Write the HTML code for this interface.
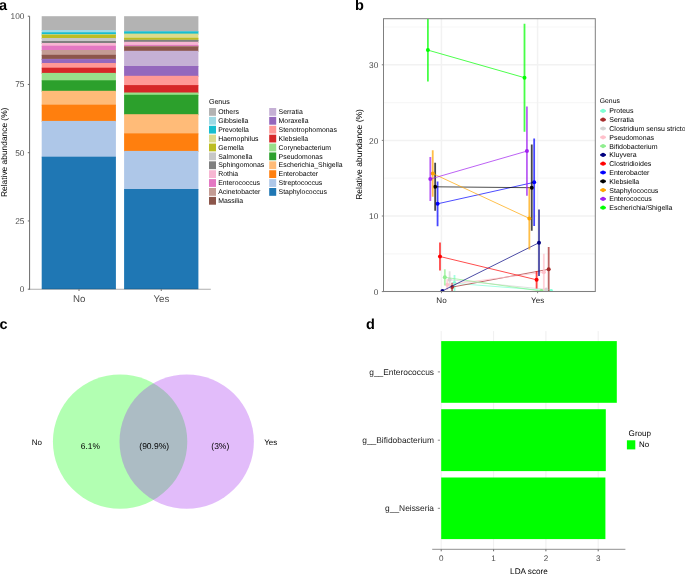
<!DOCTYPE html>
<html><head><meta charset="utf-8"><style>
html,body{margin:0;padding:0;background:#fff;width:685px;height:574px;overflow:hidden}
svg{display:block;font-family:"Liberation Sans", sans-serif;will-change:transform;text-rendering:geometricPrecision}
</style></head><body>
<svg width="685" height="574" viewBox="0 0 685 574">
<rect x="0" y="0" width="685" height="574" fill="#fff"/>
<text x="-1.00" y="10.00" font-size="14.5" fill="#000" text-anchor="start" font-weight="bold" >a</text>
<text x="355.00" y="10.20" font-size="14.5" fill="#000" text-anchor="start" font-weight="bold" >b</text>
<text x="-0.60" y="328.80" font-size="14.5" fill="#000" text-anchor="start" font-weight="bold" >c</text>
<text x="366.00" y="329.20" font-size="14.5" fill="#000" text-anchor="start" font-weight="bold" >d</text>
<rect x="41.70" y="16.20" width="74.20" height="14.80" fill="#b3b3b3"/>
<rect x="41.70" y="30.00" width="74.20" height="3.30" fill="#9edae5"/>
<rect x="41.70" y="32.30" width="74.20" height="2.90" fill="#17becf"/>
<rect x="41.70" y="34.20" width="74.20" height="1.60" fill="#dbdb8d"/>
<rect x="41.70" y="34.80" width="74.20" height="4.20" fill="#bcbd22"/>
<rect x="41.70" y="38.00" width="74.20" height="4.00" fill="#c7c7c7"/>
<rect x="41.70" y="41.00" width="74.20" height="3.00" fill="#7f7f7f"/>
<rect x="41.70" y="43.00" width="74.20" height="3.70" fill="#f7b6d2"/>
<rect x="41.70" y="45.70" width="74.20" height="5.30" fill="#e377c2"/>
<rect x="41.70" y="50.00" width="74.20" height="5.80" fill="#c49c94"/>
<rect x="41.70" y="54.80" width="74.20" height="5.10" fill="#8c564b"/>
<rect x="41.70" y="58.90" width="74.20" height="1.20" fill="#c5b0d5"/>
<rect x="41.70" y="59.10" width="74.20" height="4.90" fill="#9467bd"/>
<rect x="41.70" y="63.00" width="74.20" height="5.70" fill="#ff9896"/>
<rect x="41.70" y="67.70" width="74.20" height="6.20" fill="#d62728"/>
<rect x="41.70" y="72.90" width="74.20" height="8.40" fill="#98df8a"/>
<rect x="41.70" y="80.30" width="74.20" height="11.50" fill="#2ca02c"/>
<rect x="41.70" y="90.80" width="74.20" height="14.90" fill="#ffbb78"/>
<rect x="41.70" y="104.70" width="74.20" height="17.20" fill="#ff7f0e"/>
<rect x="41.70" y="120.90" width="74.20" height="36.80" fill="#aec7e8"/>
<rect x="41.70" y="156.70" width="74.20" height="132.50" fill="#1f77b4"/>
<rect x="124.10" y="16.20" width="74.30" height="16.00" fill="#b3b3b3"/>
<rect x="124.10" y="31.20" width="74.30" height="1.20" fill="#9edae5"/>
<rect x="124.10" y="31.40" width="74.30" height="3.20" fill="#17becf"/>
<rect x="124.10" y="33.60" width="74.30" height="5.20" fill="#dbdb8d"/>
<rect x="124.10" y="37.80" width="74.30" height="3.00" fill="#bcbd22"/>
<rect x="124.10" y="39.80" width="74.30" height="1.10" fill="#c7c7c7"/>
<rect x="124.10" y="39.90" width="74.30" height="2.90" fill="#7f7f7f"/>
<rect x="124.10" y="41.80" width="74.30" height="4.10" fill="#f7b6d2"/>
<rect x="124.10" y="44.90" width="74.30" height="2.00" fill="#e377c2"/>
<rect x="124.10" y="45.90" width="74.30" height="1.60" fill="#c49c94"/>
<rect x="124.10" y="46.50" width="74.30" height="5.30" fill="#8c564b"/>
<rect x="124.10" y="50.80" width="74.30" height="16.20" fill="#c5b0d5"/>
<rect x="124.10" y="66.00" width="74.30" height="10.80" fill="#9467bd"/>
<rect x="124.10" y="75.80" width="74.30" height="10.30" fill="#ff9896"/>
<rect x="124.10" y="85.10" width="74.30" height="8.40" fill="#d62728"/>
<rect x="124.10" y="92.50" width="74.30" height="3.30" fill="#98df8a"/>
<rect x="124.10" y="94.80" width="74.30" height="20.40" fill="#2ca02c"/>
<rect x="124.10" y="114.20" width="74.30" height="20.20" fill="#ffbb78"/>
<rect x="124.10" y="133.40" width="74.30" height="18.50" fill="#ff7f0e"/>
<rect x="124.10" y="150.90" width="74.30" height="39.10" fill="#aec7e8"/>
<rect x="124.10" y="189.00" width="74.30" height="100.20" fill="#1f77b4"/>
<line x1="29.60" y1="16.20" x2="29.60" y2="289.70" stroke="#6b6b6b" stroke-width="1" />
<line x1="29.60" y1="289.20" x2="210.80" y2="289.20" stroke="#000" stroke-width="1.1" stroke-opacity="0.32"/>
<line x1="27.80" y1="289.20" x2="29.60" y2="289.20" stroke="#6b6b6b" stroke-width="1" />
<text x="24.40" y="292.00" font-size="8.3" fill="#4d4d4d" text-anchor="end" font-weight="normal" >0</text>
<line x1="27.80" y1="220.95" x2="29.60" y2="220.95" stroke="#6b6b6b" stroke-width="1" />
<text x="24.40" y="223.75" font-size="8.3" fill="#4d4d4d" text-anchor="end" font-weight="normal" >25</text>
<line x1="27.80" y1="152.70" x2="29.60" y2="152.70" stroke="#6b6b6b" stroke-width="1" />
<text x="24.40" y="155.50" font-size="8.3" fill="#4d4d4d" text-anchor="end" font-weight="normal" >50</text>
<line x1="27.80" y1="84.45" x2="29.60" y2="84.45" stroke="#6b6b6b" stroke-width="1" />
<text x="24.40" y="87.25" font-size="8.3" fill="#4d4d4d" text-anchor="end" font-weight="normal" >75</text>
<line x1="27.80" y1="16.20" x2="29.60" y2="16.20" stroke="#6b6b6b" stroke-width="1" />
<text x="24.40" y="19.00" font-size="8.3" fill="#4d4d4d" text-anchor="end" font-weight="normal" >100</text>
<line x1="79.00" y1="289.20" x2="79.00" y2="291.00" stroke="#6b6b6b" stroke-width="1" />
<text x="79.20" y="302.00" font-size="9.7" fill="#4d4d4d" text-anchor="middle" font-weight="normal" >No</text>
<line x1="161.25" y1="289.20" x2="161.25" y2="291.00" stroke="#6b6b6b" stroke-width="1" />
<text x="161.45" y="302.00" font-size="9.7" fill="#4d4d4d" text-anchor="middle" font-weight="normal" >Yes</text>
<text x="0.00" y="0.00" font-size="8.4" fill="#000" text-anchor="middle" font-weight="normal" transform="translate(6.6,152.3) rotate(-90)">Relative abundance (%)</text>
<text x="208.90" y="104.40" font-size="7.1" fill="#000" text-anchor="start" font-weight="normal" >Genus</text>
<rect x="209.00" y="108.00" width="7.00" height="7.80" fill="#b3b3b3"/>
<text x="218.20" y="114.05" font-size="6.9" fill="#000" text-anchor="start" font-weight="normal" >Others</text>
<rect x="209.00" y="116.89" width="7.00" height="7.80" fill="#9edae5"/>
<text x="218.20" y="122.94" font-size="6.9" fill="#000" text-anchor="start" font-weight="normal" >Gibbsiella</text>
<rect x="209.00" y="125.78" width="7.00" height="7.80" fill="#17becf"/>
<text x="218.20" y="131.83" font-size="6.9" fill="#000" text-anchor="start" font-weight="normal" >Prevotella</text>
<rect x="209.00" y="134.67" width="7.00" height="7.80" fill="#dbdb8d"/>
<text x="218.20" y="140.72" font-size="6.9" fill="#000" text-anchor="start" font-weight="normal" >Haemophilus</text>
<rect x="209.00" y="143.56" width="7.00" height="7.80" fill="#bcbd22"/>
<text x="218.20" y="149.61" font-size="6.9" fill="#000" text-anchor="start" font-weight="normal" >Gemella</text>
<rect x="209.00" y="152.45" width="7.00" height="7.80" fill="#c7c7c7"/>
<text x="218.20" y="158.50" font-size="6.9" fill="#000" text-anchor="start" font-weight="normal" >Salmonella</text>
<rect x="209.00" y="161.34" width="7.00" height="7.80" fill="#7f7f7f"/>
<text x="218.20" y="167.39" font-size="6.9" fill="#000" text-anchor="start" font-weight="normal" >Sphingomonas</text>
<rect x="209.00" y="170.23" width="7.00" height="7.80" fill="#f7b6d2"/>
<text x="218.20" y="176.28" font-size="6.9" fill="#000" text-anchor="start" font-weight="normal" >Rothia</text>
<rect x="209.00" y="179.12" width="7.00" height="7.80" fill="#e377c2"/>
<text x="218.20" y="185.17" font-size="6.9" fill="#000" text-anchor="start" font-weight="normal" >Enterococcus</text>
<rect x="209.00" y="188.01" width="7.00" height="7.80" fill="#c49c94"/>
<text x="218.20" y="194.06" font-size="6.9" fill="#000" text-anchor="start" font-weight="normal" >Acinetobacter</text>
<rect x="209.00" y="196.90" width="7.00" height="7.80" fill="#8c564b"/>
<text x="218.20" y="202.95" font-size="6.9" fill="#000" text-anchor="start" font-weight="normal" >Massilia</text>
<rect x="269.20" y="108.00" width="7.00" height="7.80" fill="#c5b0d5"/>
<text x="278.60" y="114.05" font-size="6.9" fill="#000" text-anchor="start" font-weight="normal" >Serratia</text>
<rect x="269.20" y="116.89" width="7.00" height="7.80" fill="#9467bd"/>
<text x="278.60" y="122.94" font-size="6.9" fill="#000" text-anchor="start" font-weight="normal" >Moraxella</text>
<rect x="269.20" y="125.78" width="7.00" height="7.80" fill="#ff9896"/>
<text x="278.60" y="131.83" font-size="6.9" fill="#000" text-anchor="start" font-weight="normal" >Stenotrophomonas</text>
<rect x="269.20" y="134.67" width="7.00" height="7.80" fill="#d62728"/>
<text x="278.60" y="140.72" font-size="6.9" fill="#000" text-anchor="start" font-weight="normal" >Klebsiella</text>
<rect x="269.20" y="143.56" width="7.00" height="7.80" fill="#98df8a"/>
<text x="278.60" y="149.61" font-size="6.9" fill="#000" text-anchor="start" font-weight="normal" >Corynebacterium</text>
<rect x="269.20" y="152.45" width="7.00" height="7.80" fill="#2ca02c"/>
<text x="278.60" y="158.50" font-size="6.9" fill="#000" text-anchor="start" font-weight="normal" >Pseudomonas</text>
<rect x="269.20" y="161.34" width="7.00" height="7.80" fill="#ffbb78"/>
<text x="278.60" y="167.39" font-size="6.9" fill="#000" text-anchor="start" font-weight="normal" >Escherichia_Shigella</text>
<rect x="269.20" y="170.23" width="7.00" height="7.80" fill="#ff7f0e"/>
<text x="278.60" y="176.28" font-size="6.9" fill="#000" text-anchor="start" font-weight="normal" >Enterobacter</text>
<rect x="269.20" y="179.12" width="7.00" height="7.80" fill="#aec7e8"/>
<text x="278.60" y="185.17" font-size="6.9" fill="#000" text-anchor="start" font-weight="normal" >Streptococcus</text>
<rect x="269.20" y="188.01" width="7.00" height="7.80" fill="#1f77b4"/>
<text x="278.60" y="194.06" font-size="6.9" fill="#000" text-anchor="start" font-weight="normal" >Staphylococcus</text>
<line x1="383.50" y1="253.80" x2="595.30" y2="253.80" stroke="#f7f7f7" stroke-width="1.2" />
<line x1="383.50" y1="178.20" x2="595.30" y2="178.20" stroke="#f7f7f7" stroke-width="1.2" />
<line x1="383.50" y1="102.60" x2="595.30" y2="102.60" stroke="#f7f7f7" stroke-width="1.2" />
<line x1="383.50" y1="27.00" x2="595.30" y2="27.00" stroke="#f7f7f7" stroke-width="1.2" />
<line x1="383.50" y1="291.60" x2="595.30" y2="291.60" stroke="#f2f2f2" stroke-width="1.5" />
<line x1="383.50" y1="216.00" x2="595.30" y2="216.00" stroke="#f2f2f2" stroke-width="1.5" />
<line x1="383.50" y1="140.40" x2="595.30" y2="140.40" stroke="#f2f2f2" stroke-width="1.5" />
<line x1="383.50" y1="64.80" x2="595.30" y2="64.80" stroke="#f2f2f2" stroke-width="1.5" />
<line x1="441.40" y1="18.70" x2="441.40" y2="291.50" stroke="#f2f2f2" stroke-width="1.5" />
<line x1="537.60" y1="18.70" x2="537.60" y2="291.50" stroke="#f2f2f2" stroke-width="1.5" />
<defs><clipPath id="cb"><rect x="383.5" y="18.7" width="211.8" height="272.8"/></clipPath></defs>
<g clip-path="url(#cb)">
<line x1="454.50" y1="283.30" x2="551.10" y2="290.90" stroke="#7fffd4" stroke-width="1.0" stroke-opacity="0.7"/>
<line x1="454.50" y1="275.10" x2="454.50" y2="291.50" stroke="#7fffd4" stroke-width="1.8" stroke-opacity="0.72"/>
<line x1="551.10" y1="290.10" x2="551.10" y2="291.70" stroke="#7fffd4" stroke-width="1.8" stroke-opacity="0.72"/>
<circle cx="454.50" cy="283.30" r="2.0" fill="#7fffd4"/>
<circle cx="551.10" cy="290.90" r="2.0" fill="#7fffd4"/>
<line x1="452.08" y1="287.10" x2="548.68" y2="269.30" stroke="#a52a2a" stroke-width="1.0" stroke-opacity="0.7"/>
<line x1="452.08" y1="282.70" x2="452.08" y2="291.50" stroke="#a52a2a" stroke-width="1.8" stroke-opacity="0.72"/>
<line x1="548.68" y1="247.10" x2="548.68" y2="291.50" stroke="#a52a2a" stroke-width="1.8" stroke-opacity="0.72"/>
<circle cx="452.08" cy="287.10" r="2.0" fill="#a52a2a"/>
<circle cx="548.68" cy="269.30" r="2.0" fill="#a52a2a"/>
<line x1="449.66" y1="279.70" x2="546.26" y2="289.40" stroke="#d3d3d3" stroke-width="1.0" stroke-opacity="0.7"/>
<line x1="449.66" y1="271.20" x2="449.66" y2="288.20" stroke="#d3d3d3" stroke-width="1.8" stroke-opacity="0.72"/>
<line x1="546.26" y1="288.20" x2="546.26" y2="290.60" stroke="#d3d3d3" stroke-width="1.8" stroke-opacity="0.72"/>
<circle cx="449.66" cy="279.70" r="2.0" fill="#d3d3d3"/>
<circle cx="546.26" cy="289.40" r="2.0" fill="#d3d3d3"/>
<line x1="447.24" y1="284.70" x2="543.84" y2="272.30" stroke="#ffc0cb" stroke-width="1.0" stroke-opacity="0.7"/>
<line x1="447.24" y1="279.30" x2="447.24" y2="290.10" stroke="#ffc0cb" stroke-width="1.8" stroke-opacity="0.72"/>
<line x1="543.84" y1="253.80" x2="543.84" y2="290.80" stroke="#ffc0cb" stroke-width="1.8" stroke-opacity="0.72"/>
<circle cx="447.24" cy="284.70" r="2.0" fill="#ffc0cb"/>
<circle cx="543.84" cy="272.30" r="2.0" fill="#ffc0cb"/>
<line x1="444.83" y1="277.30" x2="541.43" y2="291.10" stroke="#90ee90" stroke-width="1.0" stroke-opacity="0.7"/>
<line x1="444.83" y1="269.20" x2="444.83" y2="285.40" stroke="#90ee90" stroke-width="1.8" stroke-opacity="0.72"/>
<line x1="541.43" y1="290.30" x2="541.43" y2="291.90" stroke="#90ee90" stroke-width="1.8" stroke-opacity="0.72"/>
<circle cx="444.83" cy="277.30" r="2.0" fill="#90ee90"/>
<circle cx="541.43" cy="291.10" r="2.0" fill="#90ee90"/>
<line x1="442.41" y1="290.90" x2="539.01" y2="242.70" stroke="#000080" stroke-width="1.0" stroke-opacity="0.7"/>
<line x1="442.41" y1="290.30" x2="442.41" y2="291.50" stroke="#000080" stroke-width="1.8" stroke-opacity="0.72"/>
<line x1="539.01" y1="209.50" x2="539.01" y2="275.90" stroke="#000080" stroke-width="1.8" stroke-opacity="0.72"/>
<circle cx="442.41" cy="290.90" r="2.0" fill="#000080"/>
<circle cx="539.01" cy="242.70" r="2.0" fill="#000080"/>
<line x1="439.99" y1="256.50" x2="536.59" y2="279.80" stroke="#ff0000" stroke-width="1.0" stroke-opacity="0.7"/>
<line x1="439.99" y1="242.60" x2="439.99" y2="270.40" stroke="#ff0000" stroke-width="1.8" stroke-opacity="0.72"/>
<line x1="536.59" y1="271.20" x2="536.59" y2="288.40" stroke="#ff0000" stroke-width="1.8" stroke-opacity="0.72"/>
<circle cx="439.99" cy="256.50" r="2.0" fill="#ff0000"/>
<circle cx="536.59" cy="279.80" r="2.0" fill="#ff0000"/>
<line x1="437.57" y1="203.80" x2="534.17" y2="182.30" stroke="#0000ff" stroke-width="1.0" stroke-opacity="0.7"/>
<line x1="437.57" y1="181.40" x2="437.57" y2="226.20" stroke="#0000ff" stroke-width="1.8" stroke-opacity="0.72"/>
<line x1="534.17" y1="138.60" x2="534.17" y2="226.00" stroke="#0000ff" stroke-width="1.8" stroke-opacity="0.72"/>
<circle cx="437.57" cy="203.80" r="2.0" fill="#0000ff"/>
<circle cx="534.17" cy="182.30" r="2.0" fill="#0000ff"/>
<line x1="435.15" y1="186.80" x2="531.75" y2="187.70" stroke="#000000" stroke-width="1.0" stroke-opacity="0.7"/>
<line x1="435.15" y1="162.80" x2="435.15" y2="210.80" stroke="#000000" stroke-width="1.8" stroke-opacity="0.72"/>
<line x1="531.75" y1="144.60" x2="531.75" y2="230.80" stroke="#000000" stroke-width="1.8" stroke-opacity="0.72"/>
<circle cx="435.15" cy="186.80" r="2.0" fill="#000000"/>
<circle cx="531.75" cy="187.70" r="2.0" fill="#000000"/>
<line x1="432.74" y1="173.50" x2="529.34" y2="218.40" stroke="#ffa500" stroke-width="1.0" stroke-opacity="0.7"/>
<line x1="432.74" y1="150.20" x2="432.74" y2="196.80" stroke="#ffa500" stroke-width="1.8" stroke-opacity="0.72"/>
<line x1="529.34" y1="187.40" x2="529.34" y2="249.40" stroke="#ffa500" stroke-width="1.8" stroke-opacity="0.72"/>
<circle cx="432.74" cy="173.50" r="2.0" fill="#ffa500"/>
<circle cx="529.34" cy="218.40" r="2.0" fill="#ffa500"/>
<line x1="430.32" y1="179.00" x2="526.92" y2="151.10" stroke="#a020f0" stroke-width="1.0" stroke-opacity="0.7"/>
<line x1="430.32" y1="157.00" x2="430.32" y2="201.00" stroke="#a020f0" stroke-width="1.8" stroke-opacity="0.72"/>
<line x1="526.92" y1="106.40" x2="526.92" y2="195.80" stroke="#a020f0" stroke-width="1.8" stroke-opacity="0.72"/>
<circle cx="430.32" cy="179.00" r="2.0" fill="#a020f0"/>
<circle cx="526.92" cy="151.10" r="2.0" fill="#a020f0"/>
<line x1="427.90" y1="50.10" x2="524.50" y2="77.70" stroke="#00ff00" stroke-width="1.0" stroke-opacity="0.7"/>
<line x1="427.90" y1="18.80" x2="427.90" y2="81.40" stroke="#00ff00" stroke-width="1.8" stroke-opacity="0.72"/>
<line x1="524.50" y1="23.70" x2="524.50" y2="131.70" stroke="#00ff00" stroke-width="1.8" stroke-opacity="0.72"/>
<circle cx="427.90" cy="50.10" r="2.0" fill="#00ff00"/>
<circle cx="524.50" cy="77.70" r="2.0" fill="#00ff00"/>
</g>
<rect x="383.5" y="18.7" width="211.8" height="272.8" fill="none" stroke="#7f7f7f" stroke-width="1"/>
<line x1="381.80" y1="291.60" x2="383.50" y2="291.60" stroke="#7f7f7f" stroke-width="1" />
<text x="378.30" y="295.00" font-size="8.3" fill="#4d4d4d" text-anchor="end" font-weight="normal" >0</text>
<line x1="381.80" y1="216.00" x2="383.50" y2="216.00" stroke="#7f7f7f" stroke-width="1" />
<text x="378.30" y="219.40" font-size="8.3" fill="#4d4d4d" text-anchor="end" font-weight="normal" >10</text>
<line x1="381.80" y1="140.40" x2="383.50" y2="140.40" stroke="#7f7f7f" stroke-width="1" />
<text x="378.30" y="143.80" font-size="8.3" fill="#4d4d4d" text-anchor="end" font-weight="normal" >20</text>
<line x1="381.80" y1="64.80" x2="383.50" y2="64.80" stroke="#7f7f7f" stroke-width="1" />
<text x="378.30" y="68.20" font-size="8.3" fill="#4d4d4d" text-anchor="end" font-weight="normal" >30</text>
<line x1="441.50" y1="291.50" x2="441.50" y2="293.20" stroke="#7f7f7f" stroke-width="1" />
<text x="441.50" y="303.00" font-size="8.1" fill="#1a1a1a" text-anchor="middle" font-weight="normal" >No</text>
<line x1="537.60" y1="291.50" x2="537.60" y2="293.20" stroke="#7f7f7f" stroke-width="1" />
<text x="537.60" y="303.00" font-size="8.1" fill="#1a1a1a" text-anchor="middle" font-weight="normal" >Yes</text>
<text x="0.00" y="0.00" font-size="8.5" fill="#000" text-anchor="middle" font-weight="normal" transform="translate(362.1,154.5) rotate(-90)">Relative abundance (%)</text>
<text x="599.80" y="103.00" font-size="6.8" fill="#000" text-anchor="start" font-weight="normal" >Genus</text>
<line x1="600.20" y1="110.90" x2="605.90" y2="110.90" stroke="#7fffd4" stroke-width="1.9" />
<circle cx="603.05" cy="110.90" r="2.1" fill="#7fffd4"/>
<text x="609.30" y="113.35" font-size="7.0" fill="#000" text-anchor="start" font-weight="normal" >Proteus</text>
<line x1="600.20" y1="119.70" x2="605.90" y2="119.70" stroke="#a52a2a" stroke-width="1.9" />
<circle cx="603.05" cy="119.70" r="2.1" fill="#a52a2a"/>
<text x="609.30" y="122.15" font-size="7.0" fill="#000" text-anchor="start" font-weight="normal" >Serratia</text>
<line x1="600.20" y1="128.50" x2="605.90" y2="128.50" stroke="#d3d3d3" stroke-width="1.9" />
<circle cx="603.05" cy="128.50" r="2.1" fill="#d3d3d3"/>
<text x="609.30" y="130.95" font-size="7.0" fill="#000" text-anchor="start" font-weight="normal" >Clostridium sensu stricto</text>
<line x1="600.20" y1="137.30" x2="605.90" y2="137.30" stroke="#ffc0cb" stroke-width="1.9" />
<circle cx="603.05" cy="137.30" r="2.1" fill="#ffc0cb"/>
<text x="609.30" y="139.75" font-size="7.0" fill="#000" text-anchor="start" font-weight="normal" >Pseudomonas</text>
<line x1="600.20" y1="146.10" x2="605.90" y2="146.10" stroke="#90ee90" stroke-width="1.9" />
<circle cx="603.05" cy="146.10" r="2.1" fill="#90ee90"/>
<text x="609.30" y="148.55" font-size="7.0" fill="#000" text-anchor="start" font-weight="normal" >Bifidobacterium</text>
<line x1="600.20" y1="154.90" x2="605.90" y2="154.90" stroke="#000080" stroke-width="1.9" />
<circle cx="603.05" cy="154.90" r="2.1" fill="#000080"/>
<text x="609.30" y="157.35" font-size="7.0" fill="#000" text-anchor="start" font-weight="normal" >Kluyvera</text>
<line x1="600.20" y1="163.70" x2="605.90" y2="163.70" stroke="#ff0000" stroke-width="1.9" />
<circle cx="603.05" cy="163.70" r="2.1" fill="#ff0000"/>
<text x="609.30" y="166.15" font-size="7.0" fill="#000" text-anchor="start" font-weight="normal" >Clostridioides</text>
<line x1="600.20" y1="172.50" x2="605.90" y2="172.50" stroke="#0000ff" stroke-width="1.9" />
<circle cx="603.05" cy="172.50" r="2.1" fill="#0000ff"/>
<text x="609.30" y="174.95" font-size="7.0" fill="#000" text-anchor="start" font-weight="normal" >Enterobacter</text>
<line x1="600.20" y1="181.30" x2="605.90" y2="181.30" stroke="#000000" stroke-width="1.9" />
<circle cx="603.05" cy="181.30" r="2.1" fill="#000000"/>
<text x="609.30" y="183.75" font-size="7.0" fill="#000" text-anchor="start" font-weight="normal" >Klebsiella</text>
<line x1="600.20" y1="190.10" x2="605.90" y2="190.10" stroke="#ffa500" stroke-width="1.9" />
<circle cx="603.05" cy="190.10" r="2.1" fill="#ffa500"/>
<text x="609.30" y="192.55" font-size="7.0" fill="#000" text-anchor="start" font-weight="normal" >Staphylococcus</text>
<line x1="600.20" y1="198.90" x2="605.90" y2="198.90" stroke="#a020f0" stroke-width="1.9" />
<circle cx="603.05" cy="198.90" r="2.1" fill="#a020f0"/>
<text x="609.30" y="201.35" font-size="7.0" fill="#000" text-anchor="start" font-weight="normal" >Enterococcus</text>
<line x1="600.20" y1="207.70" x2="605.90" y2="207.70" stroke="#00ff00" stroke-width="1.9" />
<circle cx="603.05" cy="207.70" r="2.1" fill="#00ff00"/>
<text x="609.30" y="210.15" font-size="7.0" fill="#000" text-anchor="start" font-weight="normal" >Escherichia/Shigella</text>
<circle cx="120.1" cy="441.6" r="67.2" fill="#00ff00" fill-opacity="0.3"/>
<circle cx="186.7" cy="441.6" r="67.2" fill="#a020f0" fill-opacity="0.3"/>
<text x="36.80" y="445.00" font-size="8.0" fill="#000" text-anchor="middle" font-weight="normal" >No</text>
<text x="90.40" y="449.30" font-size="8.4" fill="#000" text-anchor="middle" font-weight="normal" >6.1%</text>
<text x="154.20" y="449.40" font-size="8.5" fill="#000" text-anchor="middle" font-weight="normal" >(90.9%)</text>
<text x="220.30" y="449.40" font-size="8.5" fill="#000" text-anchor="middle" font-weight="normal" >(3%)</text>
<text x="270.70" y="445.00" font-size="8.0" fill="#000" text-anchor="middle" font-weight="normal" >Yes</text>
<line x1="441.20" y1="331.10" x2="441.20" y2="549.40" stroke="#ebebeb" stroke-width="0.8" />
<line x1="493.60" y1="331.10" x2="493.60" y2="549.40" stroke="#ebebeb" stroke-width="0.8" />
<line x1="545.90" y1="331.10" x2="545.90" y2="549.40" stroke="#ebebeb" stroke-width="0.8" />
<line x1="598.20" y1="331.10" x2="598.20" y2="549.40" stroke="#ebebeb" stroke-width="0.8" />
<rect x="441.20" y="341.10" width="175.60" height="61.70" fill="#00ff00"/>
<rect x="441.20" y="409.20" width="164.60" height="61.90" fill="#00ff00"/>
<rect x="441.20" y="477.50" width="164.20" height="61.60" fill="#00ff00"/>
<line x1="432.20" y1="549.40" x2="625.40" y2="549.40" stroke="#000" stroke-width="1.1" stroke-opacity="0.35"/>
<line x1="441.20" y1="549.40" x2="441.20" y2="551.30" stroke="#6a6a6a" stroke-width="1" />
<text x="441.20" y="561.20" font-size="8.1" fill="#4d4d4d" text-anchor="middle" font-weight="normal" >0</text>
<line x1="493.60" y1="549.40" x2="493.60" y2="551.30" stroke="#6a6a6a" stroke-width="1" />
<text x="493.60" y="561.20" font-size="8.1" fill="#4d4d4d" text-anchor="middle" font-weight="normal" >1</text>
<line x1="545.90" y1="549.40" x2="545.90" y2="551.30" stroke="#6a6a6a" stroke-width="1" />
<text x="545.90" y="561.20" font-size="8.1" fill="#4d4d4d" text-anchor="middle" font-weight="normal" >2</text>
<line x1="598.20" y1="549.40" x2="598.20" y2="551.30" stroke="#6a6a6a" stroke-width="1" />
<text x="598.20" y="561.20" font-size="8.1" fill="#4d4d4d" text-anchor="middle" font-weight="normal" >3</text>
<line x1="437.80" y1="371.90" x2="440.00" y2="371.90" stroke="#8a8a8a" stroke-width="1" />
<text x="434.00" y="374.80" font-size="8.4" fill="#1a1a1a" text-anchor="end" font-weight="normal" >g__Enterococcus</text>
<line x1="437.80" y1="440.20" x2="440.00" y2="440.20" stroke="#8a8a8a" stroke-width="1" />
<text x="434.00" y="443.10" font-size="8.4" fill="#1a1a1a" text-anchor="end" font-weight="normal" >g__Bifidobacterium</text>
<line x1="437.80" y1="508.30" x2="440.00" y2="508.30" stroke="#8a8a8a" stroke-width="1" />
<text x="434.00" y="511.20" font-size="8.4" fill="#1a1a1a" text-anchor="end" font-weight="normal" >g__Neisseria</text>
<text x="529.00" y="574.30" font-size="8.2" fill="#000" text-anchor="middle" font-weight="normal" >LDA score</text>
<text x="628.60" y="435.80" font-size="8.1" fill="#000" text-anchor="start" font-weight="normal" >Group</text>
<rect x="626.90" y="440.30" width="8.40" height="9.10" fill="#00ff00"/>
<text x="639.00" y="447.30" font-size="7.9" fill="#000" text-anchor="start" font-weight="normal" >No</text>
</svg></body></html>
